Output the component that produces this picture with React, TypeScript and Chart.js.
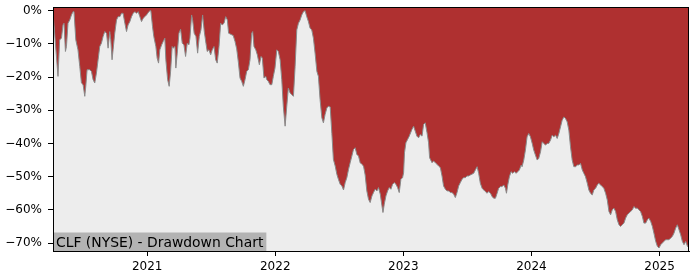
import { useEffect, useRef } from 'react';
import { Chart, registerables } from 'chart.js';

Chart.register(...registerables);

const years = [
  2020.265, 2020.304, 2020.317, 2020.331, 2020.343, 2020.351, 2020.362, 2020.370, 2020.382, 2020.396,
  2020.409, 2020.421, 2020.429, 2020.443, 2020.460, 2020.474, 2020.487, 2020.500, 2020.513, 2020.521,
  2020.531, 2020.552, 2020.565, 2020.578, 2020.591, 2020.604, 2020.617, 2020.630, 2020.643, 2020.656,
  2020.669, 2020.683, 2020.695, 2020.708, 2020.716, 2020.726, 2020.734, 2020.747, 2020.761, 2020.773,
  2020.787, 2020.800, 2020.812, 2020.826, 2020.839, 2020.851, 2020.865, 2020.878, 2020.891, 2020.904,
  2020.917, 2020.930, 2020.943, 2020.956, 2020.969, 2020.982, 2020.995, 2021.008, 2021.021, 2021.029,
  2021.042, 2021.052, 2021.068, 2021.078, 2021.089, 2021.099, 2021.113, 2021.125, 2021.138, 2021.146,
  2021.160, 2021.172, 2021.183, 2021.195, 2021.203, 2021.217, 2021.224, 2021.235, 2021.248, 2021.261,
  2021.274, 2021.287, 2021.300, 2021.313, 2021.326, 2021.334, 2021.347, 2021.355, 2021.367, 2021.381,
  2021.394, 2021.407, 2021.420, 2021.433, 2021.446, 2021.459, 2021.469, 2021.482, 2021.496, 2021.508,
  2021.522, 2021.535, 2021.547, 2021.561, 2021.574, 2021.586, 2021.600, 2021.613, 2021.626, 2021.636,
  2021.647, 2021.672, 2021.686, 2021.699, 2021.712, 2021.725, 2021.738, 2021.751, 2021.764, 2021.777,
  2021.790, 2021.803, 2021.816, 2021.824, 2021.834, 2021.848, 2021.860, 2021.876, 2021.889, 2021.899,
  2021.912, 2021.926, 2021.934, 2021.946, 2021.959, 2021.973, 2021.985, 2021.998, 2022.012, 2022.024,
  2022.038, 2022.051, 2022.063, 2022.077, 2022.090, 2022.102, 2022.116, 2022.129, 2022.142, 2022.155,
  2022.168, 2022.181, 2022.194, 2022.207, 2022.220, 2022.233, 2022.246, 2022.259, 2022.272, 2022.285,
  2022.298, 2022.311, 2022.325, 2022.337, 2022.350, 2022.364, 2022.376, 2022.389, 2022.403, 2022.415,
  2022.429, 2022.442, 2022.454, 2022.468, 2022.481, 2022.493, 2022.507, 2022.520, 2022.533, 2022.546,
  2022.559, 2022.572, 2022.585, 2022.598, 2022.611, 2022.624, 2022.637, 2022.650, 2022.663, 2022.676,
  2022.689, 2022.702, 2022.715, 2022.728, 2022.741, 2022.755, 2022.767, 2022.780, 2022.794, 2022.806,
  2022.820, 2022.833, 2022.841, 2022.851, 2022.864, 2022.877, 2022.890, 2022.903, 2022.916, 2022.929,
  2022.942, 2022.955, 2022.968, 2022.981, 2022.994, 2023.002, 2023.009, 2023.020, 2023.033, 2023.046,
  2023.067, 2023.080, 2023.093, 2023.106, 2023.119, 2023.132, 2023.146, 2023.158, 2023.171, 2023.185,
  2023.197, 2023.205, 2023.224, 2023.236, 2023.250, 2023.263, 2023.275, 2023.289, 2023.302, 2023.314,
  2023.328, 2023.341, 2023.354, 2023.367, 2023.380, 2023.393, 2023.406, 2023.419, 2023.432, 2023.445,
  2023.458, 2023.471, 2023.484, 2023.497, 2023.510, 2023.523, 2023.549, 2023.562, 2023.576, 2023.588,
  2023.601, 2023.615, 2023.627, 2023.640, 2023.654, 2023.666, 2023.680, 2023.693, 2023.705, 2023.719,
  2023.732, 2023.744, 2023.758, 2023.771, 2023.784, 2023.797, 2023.805, 2023.815, 2023.828, 2023.841,
  2023.854, 2023.867, 2023.881, 2023.893, 2023.906, 2023.920, 2023.927, 2023.940, 2023.953, 2023.966,
  2023.979, 2023.992, 2024.006, 2024.018, 2024.031, 2024.045, 2024.057, 2024.071, 2024.084, 2024.096,
  2024.110, 2024.123, 2024.135, 2024.149, 2024.162, 2024.175, 2024.188, 2024.201, 2024.214, 2024.227,
  2024.240, 2024.253, 2024.266, 2024.279, 2024.292, 2024.305, 2024.318, 2024.331, 2024.344, 2024.358,
  2024.370, 2024.383, 2024.397, 2024.409, 2024.422, 2024.436, 2024.448, 2024.461, 2024.475, 2024.487,
  2024.501, 2024.514, 2024.526, 2024.540, 2024.553, 2024.565, 2024.579, 2024.592, 2024.605, 2024.618,
  2024.631, 2024.644, 2024.657, 2024.670, 2024.683, 2024.696, 2024.709, 2024.722, 2024.735, 2024.748,
  2024.761, 2024.774, 2024.788, 2024.800, 2024.813, 2024.827, 2024.839, 2024.852, 2024.866, 2024.878,
  2024.892, 2024.905, 2024.917, 2024.931, 2024.944, 2024.956, 2024.970, 2024.983, 2024.996, 2025.009,
  2025.022, 2025.035, 2025.048, 2025.061, 2025.074, 2025.087, 2025.100, 2025.113, 2025.126, 2025.139,
  2025.152, 2025.165, 2025.178, 2025.191, 2025.204, 2025.218, 2025.230,
];

const drawdown = [
  -0.5, -19.8, -8.8, -8.3, -4.3, -3.8, -12.3, -10.8, -3.8, -2.8,
  -1.3, -0.3, -0.3, -8.8, -11.8, -16.8, -21.8, -22.3, -25.8, -22.8,
  -17.8, -17.8, -18.3, -20.8, -21.8, -18.8, -14.8, -10.8, -9.8, -7.8,
  -6.3, -6.8, -11.3, -6.3, -8.8, -14.8, -11.8, -6.8, -2.8, -1.8,
  -1.8, -0.8, -0.8, -3.8, -6.3, -4.3, -3.3, -1.8, -0.8, -0.3,
  -0.8, -0.3, -1.8, -3.3, -2.3, -1.8, -1.3, -0.6, 0, 0,
  -4.8, -7.8, -10.8, -14.3, -15.8, -11.8, -10.3, -9.3, -8.3, -14.8,
  -20.8, -22.8, -18.3, -10.8, -11.3, -10.8, -17.3, -12.8, -6.8, -5.6,
  -9.8, -10.3, -13.8, -9.8, -10.3, -8.3, -1.3, -2.8, -6.8, -7.8,
  -12.8, -7.8, -5.8, -1.3, -6.3, -9.8, -12.3, -11.8, -13.3, -11.8,
  -10.8, -14.8, -15.8, -10.8, -3.8, -4.3, -3.8, -1.8, -2.8, -6.8,
  -7.0, -7.5, -9.3, -11.5, -15.5, -20.3, -21.3, -22.8, -20.8, -18.3,
  -17.8, -14.8, -6.8, -6.3, -10.8, -11.8, -13.3, -16.3, -13.8, -14.3,
  -20.3, -19.8, -20.8, -21.3, -22.3, -22.3, -19.8, -17.3, -11.8, -12.3,
  -14.8, -20.8, -28.8, -34.8, -28.8, -23.3, -24.8, -25.3, -25.8, -16.8,
  -5.8, -3.8, -2.8, -1.3, -0.3, 0, -1.8, -3.3, -5.3, -5.8,
  -8.3, -12.8, -18.3, -19.8, -26.8, -32.3, -33.8, -31.3, -29.3, -28.8,
  -29.0, -37, -44.8, -46.8, -49.3, -50.8, -52.3, -52.8, -54, -51.8,
  -50.3, -47.8, -45.8, -43.8, -41.8, -41.3, -43.3, -43.8, -45.8, -46.3,
  -46.8, -49.5, -54.3, -56.8, -57.8, -55.8, -54.8, -53.8, -54.3, -53.3,
  -55.3, -58.8, -60.8, -58.3, -55.8, -54.3, -53.3, -53.8, -52.3, -51.8,
  -52.3, -53.3, -54.8, -50.8, -50.3, -48.8, -42.8, -39.8, -38.8, -37.8,
  -35.8, -34.8, -36.3, -37.8, -38.3, -37.3, -37.8, -34.3, -33.8, -36.8,
  -39.8, -44.3, -45.8, -45.3, -45.8, -46.3, -46.8, -47.3, -49.8, -52.8,
  -53.8, -54.3, -54.3, -54.8, -54.8, -55.3, -56.3, -54.8, -52.8, -51.8,
  -50.8, -50.3, -50.3, -49.8, -49.8, -49.5, -49, -48, -47, -49,
  -52, -53.5, -54, -54.5, -55, -54.5, -55, -56, -56.5, -56.5,
  -55, -53.5, -53, -53, -52.5, -53.5, -55, -52.5, -50, -48.5,
  -49, -48.5, -49, -48.5, -48, -46.5, -47, -45, -42, -38,
  -37, -38, -40, -42, -43.5, -45, -44.5, -42.5, -39.5, -40,
  -40.5, -40, -40, -39, -37.5, -38, -37.5, -38.5, -37, -35,
  -33, -32, -32.5, -33.5, -36, -41, -45, -47, -47, -46.5,
  -46.5, -46, -48, -49, -50, -52, -54, -55, -55.5, -54,
  -53.5, -52.5, -52, -52.5, -53, -53.5, -55, -57, -60.5, -61.5,
  -60, -59.5, -60.5, -63, -64.5, -65, -64.5, -64, -62.5, -61.5,
  -61, -60.5, -60, -59, -59.5, -59.5, -60, -60.5, -62, -64,
  -64, -63, -62.5, -63.5, -65, -67, -69.5, -71, -71.5, -70.5,
  -70, -69.5, -69, -69, -69, -68.5, -68, -67, -65.5, -64.5,
  -66, -67.5, -69.5, -70.5, -69.5, -71, -71.5,
];

const xTicks = [2021, 2022, 2023, 2024, 2025];
const yTicks = [0, -10, -20, -30, -40, -50, -60, -70];
const yMin = -72.4;
const yMax = 1.1;
const titleText = 'CLF (NYSE) - Drawdown Chart';

export default function App() {
  const ref = useRef<HTMLCanvasElement>(null);

  useEffect(() => {
    if (!ref.current) return;
    const decor = {
      id: 'decor',
      beforeDraw(chart: any) {
        const { ctx, chartArea: a } = chart;
        ctx.save();
        ctx.fillStyle = '#ededed';
        ctx.fillRect(a.left, a.top, a.right - a.left, a.bottom - a.top);
        ctx.restore();
      },
      afterDatasetsDraw(chart: any) {
        const { ctx, chartArea: a } = chart;
        ctx.save();
        ctx.font = '13.9px "DejaVu Sans"';
        const tw = ctx.measureText(titleText).width;
        ctx.fillStyle = '#b3b3b3';
        ctx.fillRect(a.left, a.bottom - 18.5, tw + 6, 18.5);
        ctx.fillStyle = '#000';
        ctx.textBaseline = 'alphabetic';
        ctx.fillText(titleText, a.left + 3, a.bottom - 3.8);
        ctx.restore();
      },
      afterDraw(chart: any) {
        const { ctx, chartArea: a } = chart;
        ctx.save();
        ctx.strokeStyle = '#000';
        ctx.lineWidth = 1;
        ctx.strokeRect(a.left + 0.5, a.top + 0.5, a.right - a.left - 1, a.bottom - a.top);
        ctx.restore();
      },
    };

    const points = years.map((x, i) => ({ x, y: drawdown[i] }));
    const chart = new Chart(ref.current, {
      type: 'line',
      data: {
        datasets: [
          {
            data: points,
            borderColor: '#8a8a8a',
            borderWidth: 1,
            backgroundColor: '#af3030',
            fill: 'end',
            pointRadius: 0,
            tension: 0,
          },
        ],
      },
      options: {
        animation: false,
        responsive: false,
        maintainAspectRatio: false,
        layout: { padding: { top: 7, right: 11, left: 0, bottom: 0 } },
        plugins: { legend: { display: false }, tooltip: { enabled: false } },
        scales: {
          x: {
            type: 'linear',
            min: years[0],
            max: years[years.length - 1],
            afterFit: (s: any) => { s.height = 29; s.paddingLeft = 0; s.paddingRight = 0; },
            afterBuildTicks: (s: any) => { s.ticks = xTicks.map((v) => ({ value: v })); },
            grid: { drawOnChartArea: false, drawTicks: true, tickLength: 5, tickColor: '#000', tickWidth: 1 },
            border: { display: true, color: '#000', width: 1 },
            ticks: {
              autoSkip: false,
              maxRotation: 0,
              padding: 4,
              color: '#000',
              font: { family: 'DejaVu Sans', size: 12 },
              callback: (v: any) => String(v),
            },
          },
          y: {
            type: 'linear',
            min: yMin,
            max: yMax,
            afterFit: (s: any) => { s.width = 53; s.paddingTop = 0; s.paddingBottom = 0; },
            afterBuildTicks: (s: any) => { s.ticks = yTicks.map((v) => ({ value: v })); },
            grid: { drawOnChartArea: false, drawTicks: true, tickLength: 5, tickColor: '#000', tickWidth: 1 },
            border: { display: true, color: '#000', width: 1 },
            ticks: {
              autoSkip: false,
              padding: 6,
              color: '#000',
              font: { family: 'DejaVu Sans', size: 12 },
              callback: (v: any) => `${v < 0 ? '\u2212' : ''}${Math.abs(v)}%`,
            },
          },
        },
      },
      plugins: [decor],
    });
    return () => chart.destroy();
  }, []);

  return (
    <div style={{ position: 'absolute', left: 0, top: 0, width: 700, height: 280 }}>
      <canvas ref={ref} width={700} height={280} />
    </div>
  );
}
